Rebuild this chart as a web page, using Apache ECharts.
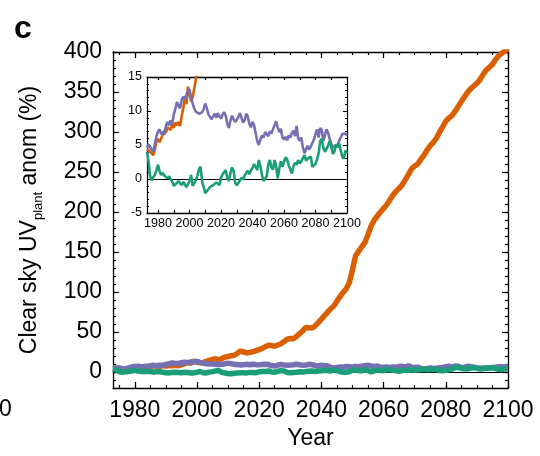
<!DOCTYPE html>
<html>
<head>
<meta charset="utf-8">
<script src="https://cdn.jsdelivr.net/npm/echarts@6/dist/echarts.min.js"></script>
<style>
  html, body { margin: 0; padding: 0; background: #fff; }
  #chart { width: 540px; height: 456px; }
</style>
</head>
<body>
<div id="chart"></div>
<script>
// annual values 1973..2100
const startYear = 1973
const endYear = 2100

const orangeVals = [
  4.4, 4.6, 4.0, 3.9, 3.5, 4.4, 5.5,
  5.9, 5.4, 5.6, 6.5, 7.1, 6.8, 7.6, 7.7, 7.2, 8.1,
  7.5, 8.3, 7.9, 8.4, 7.8, 9.2, 10.4, 11.8, 11.0, 13.6,
  12.5, 11.4, 12.0, 13.3, 14.6, 15.8, 16.5, 15.2, 16.9, 18.6,
  19.4, 20.3, 21.0, 23.5, 26.2, 25.0, 23.8, 24.5, 25.3, 26.8,
  28.1, 29.4, 31.6, 33.4, 33.0, 32.2, 33.8, 35.4, 38.2, 41.0,
  41.8, 41.5, 44.6, 47.9, 51.4, 55.8, 55.2, 55.0, 57.6, 61.8,
  66.2, 70.4, 74.8, 79.1, 82.5, 88.6, 94.2, 99.6, 104.0, 112.0,
  128.0, 145.5, 151.0, 156.5, 162.0, 172.0, 182.5, 190.0, 195.0, 200.0,
  204.5, 209.0, 215.0, 221.0, 226.0, 229.5, 234.0, 240.5, 247.0, 254.0,
  257.5, 260.0, 266.0, 271.0, 277.5, 283.0, 287.0, 292.5, 300.0, 306.5,
  313.5, 317.5, 320.5, 326.0, 332.0, 338.0, 344.0, 349.5, 354.0, 357.5,
  361.0, 365.5, 372.0, 377.5, 381.0, 384.5, 390.5, 395.5, 398.5, 401.0,
  405.0
]

const purpleVals = [
  4.6, 5.1, 4.9, 4.3, 4.0, 5.2, 6.3,
  7.0, 7.3, 6.6, 6.9, 6.5, 7.8, 8.4, 7.9, 8.6, 8.0,
  9.5, 10.3, 11.3, 10.8, 10.4, 11.6, 12.1, 11.7, 12.4, 12.9,
  13.2, 12.0, 11.1, 10.4, 9.9, 10.1, 9.6, 9.4, 9.8, 10.3,
  11.1, 10.4, 9.5, 9.3, 8.8, 9.2, 9.6, 9.0, 9.7, 9.2,
  8.9, 9.5, 9.8, 9.3, 8.1, 7.5, 8.6, 9.3, 8.8, 8.4,
  8.7, 9.1, 9.7, 9.0, 8.3, 8.6, 9.6, 9.2, 8.1, 7.6,
  8.4, 7.9, 7.7, 5.6, 5.0, 5.8, 6.4, 6.1, 6.9, 6.6,
  6.3, 7.0, 6.7, 7.3, 7.9, 8.5, 7.6, 6.9, 7.4, 6.1,
  5.8, 6.2, 5.7, 6.4, 6.1, 6.8, 7.1, 6.3, 7.8, 6.0,
  5.6, 6.1, 4.6, 3.8, 4.4, 4.9, 4.3, 4.8, 5.3, 5.8,
  6.6, 7.3, 6.1, 7.5, 7.2, 5.6, 5.5, 7.3, 6.8, 5.9,
  5.2, 4.6, 4.9, 5.1, 5.0, 5.6, 6.1, 6.6, 6.5, 6.7,
  6.4
]

const greenVals = [
  4.0, 2.6, 0.4, -0.2, 0.3, 0.6, 1.3,
  2.1, 1.1, 0.6, 0.9, 0.5, 0.7, 0.1, 0.4, 0.6, -0.4,
  -1.0, -1.1, -0.6, -0.3, -0.5, -0.9, -0.4, -0.6, -1.2, -1.1,
  -0.3, 0.6, -1.0, -1.2, -0.2, 0.5, 1.4, 1.8, -0.4, -1.2,
  -2.1, -2.2, -1.5, -1.2, -1.0, -0.9, -1.1, -0.5, -0.7, -0.9,
  0.2, 0.7, 0.5, 1.3, 0.1, -0.3, 0.9, 1.7, 1.2, -0.6,
  -0.9, -0.6, -0.4, 0.2, -0.1, 0.5, 0.9, 1.2, 0.7, 1.3,
  1.6, 2.2, 1.8, 1.3, 2.8, 1.9, 0.6, -0.3, -0.2, 0.4,
  2.1, 2.8, 1.7, 1.4, 2.8, 1.9, 0.1, 1.5, 2.6, 1.8,
  1.7, 3.2, 2.9, 2.0, 1.4, 0.8, 1.9, 2.4, 2.1, 2.8,
  2.3, 2.6, 3.1, 3.5, 2.7, 3.0, 3.2, 3.3, 1.8, 1.6,
  2.2, 2.9, 3.8, 5.6, 5.9, 4.6, 4.0, 3.8, 4.9, 5.6,
  4.8, 3.7, 4.0, 5.1, 4.7, 5.2, 4.2, 3.3, 3.0, 4.2,
  3.8
]

// tick label positions
const xLabelYears = [1980, 2000, 2020, 2040, 2060, 2080, 2100]
const xMinorYears = [1975, 1980, 1985, 1990, 1995, 2000, 2005, 2010, 2015, 2020, 2025, 2030, 2035, 2040, 2045, 2050, 2055, 2060, 2065, 2070, 2075, 2080, 2085, 2090, 2095, 2100]
const insetXTickYears = [1980, 1990, 2000, 2010, 2020, 2030, 2040, 2050, 2060, 2070, 2080, 2090, 2100]
const yLabelVals = [0, 50, 100, 150, 200, 250, 300, 350, 400]
const yMinorVals = [-20, -10, 0, 10, 20, 30, 40, 50, 60, 70, 80, 90, 100, 110, 120, 130, 140, 150, 160, 170, 180, 190, 200, 210, 220, 230, 240, 250, 260, 270, 280, 290, 300, 310, 320, 330, 340, 350, 360, 370, 380, 390, 400]

const FONT = 'Liberation Sans, Arial, Helvetica, sans-serif'
const colors = { orange: '#D95F02', purple: '#7570B3', green: '#1B9E77' }

function pairs (vals) {
  return vals.map((v, i) => [startYear + i, v])
}

// 轴的通用配置：画框线+朝内的刻度
function frameAxis (o) {
  return Object.assign({
    type: 'value',
    axisLine: { show: o.line !== false, onZero: false, lineStyle: { color: '#000', width: 1.3 } },
    axisTick: { show: true, inside: true, length: o.tickLen, customValues: o.ticks, lineStyle: { color: '#000', width: 1.2 } },
    axisLabel: o.labels ? {
      show: true, customValues: o.labels, color: '#000', fontFamily: FONT, fontSize: o.fontSize, margin: o.margin,
      formatter: v => String(v)
    } : { show: false },
    splitLine: { show: false }
  }, o.extra)
}

const xAxes = [
  // main
  frameAxis({ ticks: xLabelYears, tickLen: 6, labels: xLabelYears, fontSize: 23, margin: 11,
    extra: { gridIndex: 0, position: 'bottom', min: startYear, max: endYear,
      name: 'Year', nameLocation: 'middle', nameGap: 38,
      nameTextStyle: { color: '#000', fontFamily: FONT, fontSize: 23 } } }),
  frameAxis({ ticks: xMinorYears, tickLen: 3, line: false, extra: { gridIndex: 0, position: 'bottom', min: startYear, max: endYear } }),
  frameAxis({ ticks: xLabelYears, tickLen: 6, extra: { gridIndex: 0, position: 'top', min: startYear, max: endYear } }),
  frameAxis({ ticks: xMinorYears, tickLen: 3, line: false, extra: { gridIndex: 0, position: 'top', min: startYear, max: endYear } }),
  // inset
  frameAxis({ ticks: insetXTickYears, tickLen: 3, labels: xLabelYears, fontSize: 12.5, margin: 4,
    extra: { gridIndex: 1, position: 'bottom', min: startYear, max: endYear } }),
  frameAxis({ ticks: insetXTickYears, tickLen: 3, extra: { gridIndex: 1, position: 'top', min: startYear, max: endYear } })
]

const insetY = {
  type: 'value', gridIndex: 1, min: -5, max: 15, interval: 5,
  axisLine: { show: true, onZero: false, lineStyle: { color: '#000', width: 1.2 } },
  axisTick: { show: true, inside: true, length: 4, lineStyle: { color: '#000', width: 1 } },
  minorTick: { show: true, splitNumber: 5, length: 2, lineStyle: { color: '#000', width: 1 } },
  splitLine: { show: false }
}

const yAxes = [
  frameAxis({ ticks: yLabelVals, tickLen: 6, labels: yLabelVals, fontSize: 23, margin: 11,
    extra: { gridIndex: 0, position: 'left', min: -20, max: 400,
      name: '{t|Clear sky UV}{s|plant}{t| anom (%)}', nameLocation: 'middle', nameRotate: 90, nameGap: 68,
      nameTextStyle: {
        color: '#000', fontFamily: FONT,
        rich: {
          t: { fontSize: 23, fontFamily: FONT, color: '#000', lineHeight: 30, verticalAlign: 'middle' },
          s: { fontSize: 13, fontFamily: FONT, color: '#000', lineHeight: 30, verticalAlign: 'bottom', padding: [12, 0, 0, 0] }
        }
      } } }),
  frameAxis({ ticks: yMinorVals, tickLen: 3, line: false, extra: { gridIndex: 0, position: 'left', min: -20, max: 400 } }),
  frameAxis({ ticks: yLabelVals, tickLen: 6, extra: { gridIndex: 0, position: 'right', min: -20, max: 400 } }),
  frameAxis({ ticks: yMinorVals, tickLen: 3, line: false, extra: { gridIndex: 0, position: 'right', min: -20, max: 400 } }),
  Object.assign({}, insetY, {
    position: 'left',
    axisLabel: { show: true, color: '#000', fontFamily: FONT, fontSize: 12.5, margin: 5 }
  }),
  Object.assign({}, insetY, { position: 'right', axisLabel: { show: false } })
]

// 0 reference line, kept below the data lines
const zeroLine = {
  silent: true,
  z: 1,
  symbol: 'none',
  label: { show: false },
  lineStyle: { color: '#000', width: 1, type: 'solid' },
  data: [{ yAxis: 0 }]
}

function line (name, vals, color, width, xi, yi, withZero, z) {
  const s = {
    name: name,
    type: 'line',
    xAxisIndex: xi,
    yAxisIndex: yi,
    z: z,
    data: pairs(vals),
    showSymbol: false,
    symbol: 'none',
    lineStyle: { color: color, width: width },
    itemStyle: { color: color },
    animation: false
  }
  if (withZero) s.markLine = zeroLine
  return s
}

const option = {
  backgroundColor: '#fff',
  animation: false,
  grid: [
    { left: 113, top: 52, width: 395, height: 336 },
    { left: 147, top: 77, width: 200, height: 136, show: true, backgroundColor: '#fff', borderWidth: 0 }
  ],
  xAxis: xAxes,
  yAxis: yAxes,
  graphic: [
    { type: 'text', left: 14, top: 13, style: { text: 'c', font: 'bold 32px ' + FONT, fill: '#000' } },
    { type: 'text', left: -1, top: 398, style: { text: '0', font: '23px ' + FONT, fill: '#000' } }
  ],
  series: [
    line('orange', orangeVals, colors.orange, 5.5, 0, 0, true, 2),
    line('purple', purpleVals, colors.purple, 5.5, 0, 0, false, 3),
    line('green', greenVals, colors.green, 5.5, 0, 0, false, 4),
    line('orange-inset', orangeVals, colors.orange, 2.6, 4, 4, true, 2),
    line('purple-inset', purpleVals, colors.purple, 2.6, 4, 4, false, 3),
    line('green-inset', greenVals, colors.green, 2.6, 4, 4, false, 4)
  ]
}

const chart = echarts.init(document.getElementById('chart'), null, { renderer: 'canvas' })
chart.setOption(option)
</script>
</body>
</html>
